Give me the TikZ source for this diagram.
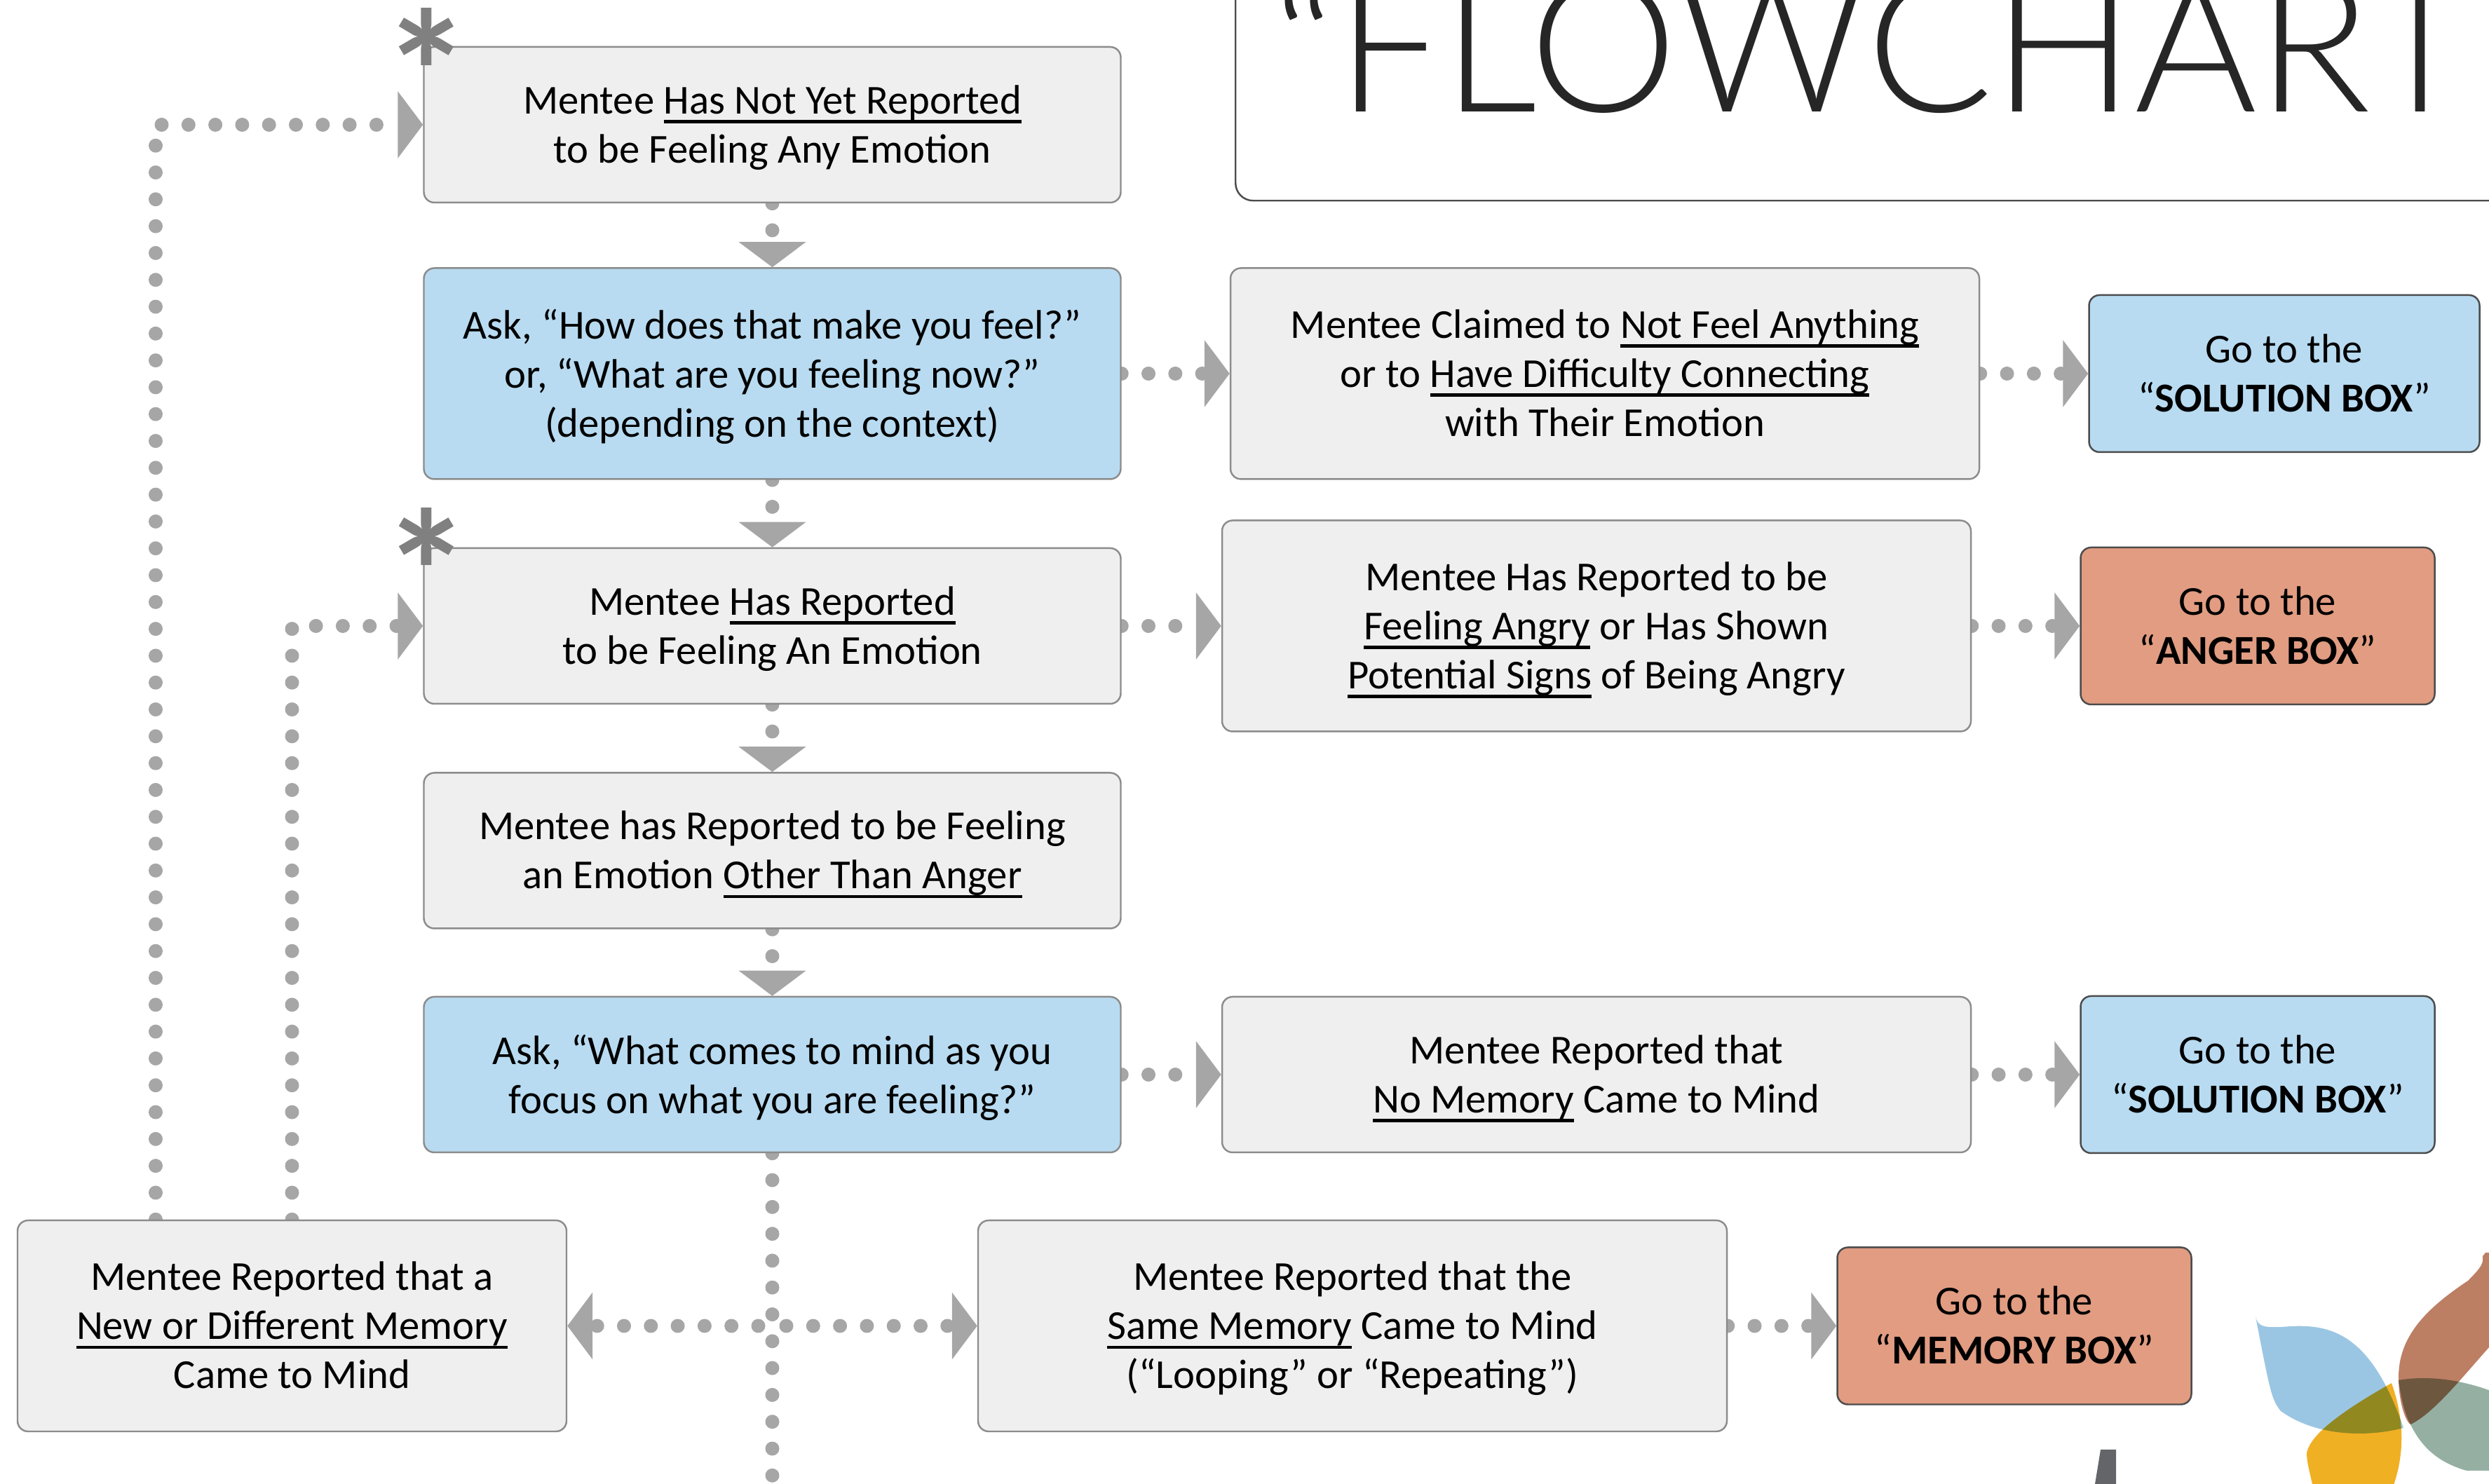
\documentclass[tikz,border=0pt]{standalone}
\usepackage{fontspec}
\setmainfont{Carlito}
\newfontfamily\titlefont{Lato Light}
\newcommand{\ul}[1]{\sbox0{#1}\rlap{\rule[-3.8pt]{\wd0}{1.2pt}}\usebox0}
\usetikzlibrary{arrows.meta,backgrounds}
\definecolor{boxgrey}{HTML}{EFEFEF}
\definecolor{boxblue}{HTML}{B8DBF1}
\definecolor{boxred}{HTML}{E19C82}
\definecolor{dotgrey}{HTML}{A6A6A6}
\begin{document}
\begin{tikzpicture}[
	cell/.style={
		rectangle,
		rounded corners=1.5mm,
		draw=black!45,
		line width=0.7pt,
		fill=boxgrey,
		align=center,
		inner sep=0pt,
		minimum width=9.94cm,
		minimum height=2.22cm,
		text depth=0.6pt,
		font=\fontsize{16.7}{19.9}\selectfont
	},
	ask/.style={cell, fill=boxblue},
	wide/.style={cell, minimum width=10.68cm, minimum height=3.01cm},
	goblue/.style={cell, fill=boxblue, draw=black!70, minimum width=5.05cm, minimum height=2.24cm},
	gored/.style={goblue, fill=boxred},
	flow/.style={% Dotted arrows with a big grey head
		draw=dotgrey,
		line width=2mm,
		line cap=round,
		dash pattern=on 0pt off 3.83mm,
		-{Triangle[length=3.6mm,width=9.4mm,fill=dotgrey,sep=0pt]},
	},
	star/.style={text=black!50, inner sep=0pt, font=\bfseries\fontsize{72}{72}\selectfont},
	leaf/.style={blend mode=multiply},
]
	\useasboundingbox (0,0) rectangle (35.5,21.17);

	\node [cell] (notyet) at (11.015,19.39) {Mentee \ul{Has Not Yet Reported}\\to be Feeling Any Emotion};
	\node [ask, minimum height=3.01cm] (askfeel) at (11.015,15.84) {Ask, “How does that make you feel?”\\or, “What are you feeling now?”\\(depending on the context)};
	\node [cell] (reported) at (11.015,12.24) {Mentee \ul{Has Reported}\\to be Feeling An Emotion};
	\node [cell] (other) at (11.015,9.035) {Mentee has Reported to be Feeling\\an Emotion \ul{Other Than Anger}};
	\node [ask] (askmind) at (11.015,5.84) {Ask, “What comes to mind as you\\focus on what you are feeling?”};

	\node [wide] (claimed) at (22.89,15.84) {Mentee Claimed to \ul{Not Feel Anything}\\or to \ul{Have Difficulty Connecting}\\with Their Emotion};
	\node [goblue, minimum width=5.57cm] (solutionA) at (32.58,15.84) {Go to the\\“\textbf{SOLUTION BOX}”};

	\node [wide] (angry) at (22.77,12.24) {Mentee Has Reported to be\\\ul{Feeling Angry} or Has Shown\\\ul{Potential Signs} of Being Angry};
	\node [gored] (anger) at (32.2,12.24) {Go to the\\“\textbf{ANGER BOX}”};

	\node [wide, minimum height=2.22cm] (nomemory) at (22.77,5.84) {Mentee Reported that\\\ul{No Memory} Came to Mind};
	\node [goblue] (solutionB) at (32.2,5.84) {Go to the\\“\textbf{SOLUTION BOX}”};

	\node [wide, minimum width=7.83cm] (newmemory) at (4.165,2.255) {Mentee Reported that a\\\ul{New or Different Memory}\\Came to Mind};
	\node [wide] (samememory) at (19.29,2.255) {Mentee Reported that the\\\ul{Same Memory} Came to Mind\\(“Looping” or “Repeating”)};
	\node [gored] (memory) at (28.73,2.255) {Go to the\\“\textbf{MEMORY BOX}”};

	\node [star] (starA) at (6.09,20.15) {*};
	\node [star] (starB) at (6.09,13.02) {*};

	\node [draw=black!70, line width=0.7pt, rounded corners=2.5mm, minimum width=20cm, minimum height=4cm, anchor=south west] (titlebox) at (17.61,18.295) {};
	\node [anchor=base west, inner sep=0pt, text=black!85, font=\titlefont\fontsize{76}{76}\selectfont] (title) at (18.15,19.57) {“FLOWCHART};

	\coordinate (loopA) at (2.22,19.39);
	\coordinate (exitdown) at (11.015,-0.5);
	\coordinate (split) at (askmind |- newmemory);

	\begin{scope}[on background layer]
		\draw [flow] (notyet) -- (askfeel);
		\draw [flow] (askfeel) -- (reported);
		\draw [flow] (reported) -- (other);
		\draw [flow] (other) -- (askmind);
		\draw [flow] (askfeel) -- (claimed);
		\draw [flow] (claimed) -- (solutionA);
		\draw [flow] (reported) -- (angry);
		\draw [flow] (angry) -- (anger);
		\draw [flow] (askmind) -- (nomemory);
		\draw [flow] (nomemory) -- (solutionB);
		\draw [flow] (samememory) -- (memory);
		\draw [flow, shorten <=2mm] (split) -- (newmemory);
		\draw [flow, shorten <=2mm] (split) -- (samememory);
		\draw [flow, -] (askmind) -- (exitdown);
		\draw [flow] (newmemory.north -| loopA) -- (loopA) -- (notyet);
		\draw [flow] (newmemory.north) |- (reported);
	\end{scope}

	% logo
	\fill [leaf, fill={rgb,255:red,155;green,198;blue,227}] (32.17,2.39) .. controls (32.20,2.24) and (32.3,2.23) .. (32.55,2.24) .. controls (33.2,2.30) and (33.8,2.2) .. (34.28,0.80) .. controls (33.7,0.65) and (33.0,0.7) .. (32.53,1.04) .. controls (32.4,1.2) and (32.38,1.3) .. (32.17,2.39) -- cycle;
	\fill [leaf, fill={rgb,255:red,240;green,176;blue,36}] (34.11,1.44) .. controls (33.6,1.15) and (32.95,0.75) .. (32.90,0.44) .. controls (32.9,0.3) and (32.95,0.15) .. (33.0,-0.1) -- (34.11,-0.1) .. controls (34.3,0.4) and (34.3,0.9) .. (34.11,1.44) -- cycle;
	\fill [leaf, fill={rgb,255:red,188;green,127;blue,100}] (35.41,3.25) .. controls (35.42,3.15) and (35.4,3.1) .. (35.2,2.9) .. controls (34.6,2.5) and (34.2,2.1) .. (34.21,1.5) .. controls (34.21,1.2) and (34.3,0.9) .. (34.38,0.85) .. controls (34.7,1.0) and (35.1,1.5) .. (35.5,1.95) -- (36,3.3) -- (35.45,3.3) -- cycle;
	\fill [leaf, fill={rgb,255:red,149;green,176;blue,163}] (34.21,1.48) .. controls (34.6,1.55) and (35.1,1.5) .. (35.6,1.30) -- (35.6,0.19) -- (35.18,0.19) .. controls (34.8,0.3) and (34.55,0.5) .. (34.38,0.85) .. controls (34.3,1.0) and (34.25,1.2) .. (34.21,1.48) -- cycle;
	\fill [fill={rgb,255:red,99;green,101;blue,105}] (29.96,0.49) -- (30.18,0.49) -- (30.18,0) -- (29.88,0) -- cycle;
\end{tikzpicture}
\end{document}
